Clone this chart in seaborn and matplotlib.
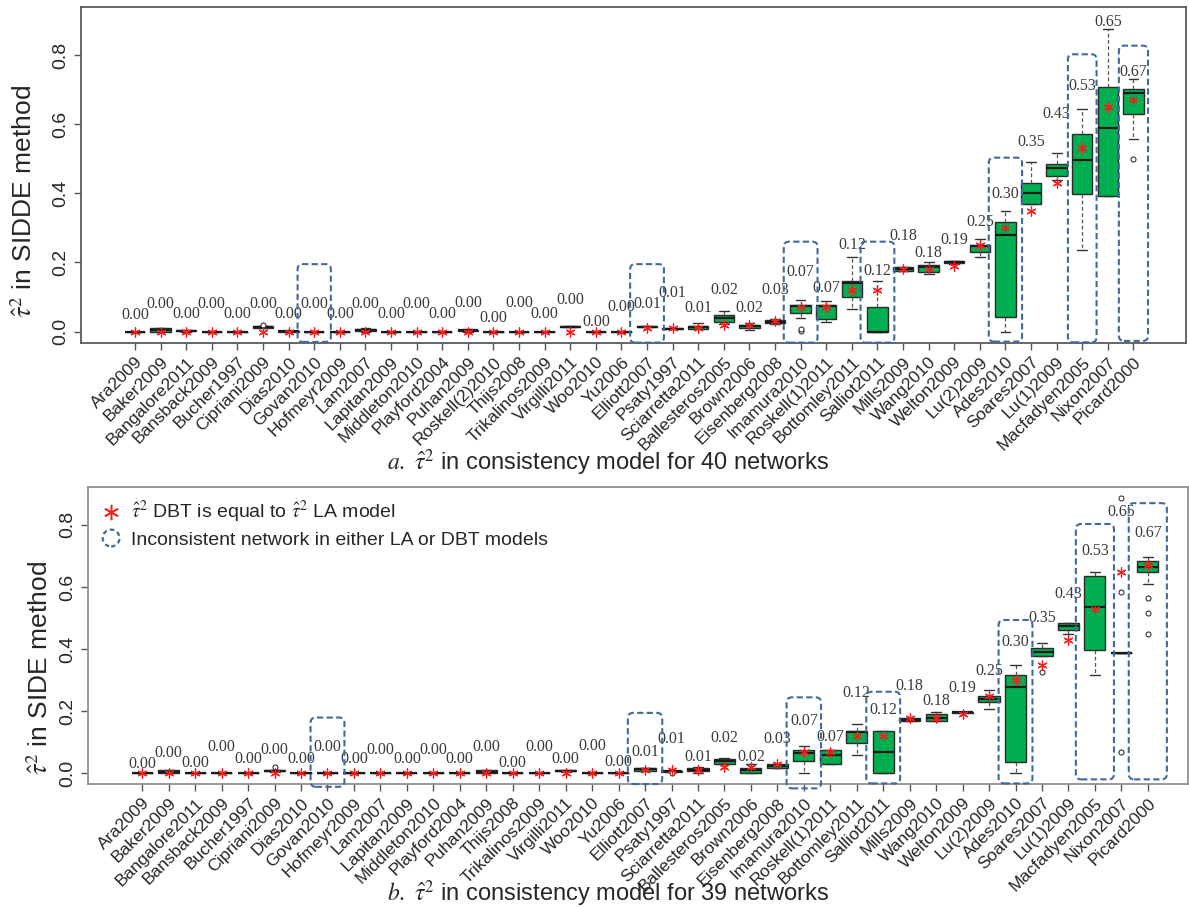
import matplotlib
matplotlib.use("Agg")
import matplotlib.pyplot as plt
import matplotlib.patches as mpatches
from matplotlib.legend_handler import HandlerPatch
from matplotlib.lines import Line2D
import pandas as pd
import seaborn as sns

sns.set_theme(style="ticks")
plt.rcParams['font.family'] = ['Liberation Sans', 'DejaVu Sans']
plt.rcParams['mathtext.fontset'] = 'stix'

# ---------------------------------------------------------------- panel a data
names_a = ["Ara2009", "Baker2009", "Bangalore2011", "Bansback2009", "Bucher1997",
           "Cipriani2009", "Dias2010", "Govan2010", "Hofmeyr2009", "Lam2007",
           "Lapitan2009", "Middleton2010", "Playford2004", "Puhan2009", "Roskell(2)2010",
           "Thijs2008", "Trikalinos2009", "Virgilli2011", "Woo2010", "Yu2006",
           "Elliott2007", "Psaty1997", "Sciarretta2011", "Ballesteros2005", "Brown2006",
           "Eisenberg2008", "Imamura2010", "Roskell(1)2011", "Bottomley2011", "Salliot2011",
           "Mills2009", "Wang2010", "Welton2009", "Lu(2)2009", "Ades2010",
           "Soares2007", "Lu(1)2009", "Macfadyen2005", "Nixon2007", "Picard2000"]

# five-number summaries of the SIDDE tau^2 estimates
lo_a = [0, 0, 0, 0, 0, 0.009, 0, 0, 0, 0,
        0, 0, 0, 0, 0, 0, 0, 0.012, 0, 0,
        0.012, 0.006, 0.006, 0.022, 0.005, 0.022, 0.039, 0.027, 0.065, 0,
        0.174, 0.166, 0.196, 0.215, 0, 0.368, 0.439, 0.236, 0.392, 0.558]
q1_a = [0, 0, 0.001, 0, 0, 0.011, 0, 0, 0, 0.002,
        0, 0, 0, 0.002, 0, 0, 0, 0.013, 0, 0,
        0.013, 0.007, 0.008, 0.029, 0.010, 0.024, 0.055, 0.036, 0.099, 0,
        0.176, 0.171, 0.198, 0.231, 0.041, 0.368, 0.451, 0.397, 0.392, 0.628]
med_a = [0, 0.004, 0.003, 0, 0, 0.013, 0.001, 0, 0, 0.004,
         0, 0, 0, 0.004, 0, 0, 0, 0.014, 0, 0,
         0.014, 0.008, 0.012, 0.039, 0.015, 0.029, 0.075, 0.075, 0.140, 0,
         0.181, 0.188, 0.200, 0.247, 0.278, 0.400, 0.474, 0.496, 0.588, 0.689]
q3_a = [0, 0.010, 0.004, 0, 0, 0.015, 0.002, 0, 0, 0.007,
        0, 0, 0, 0.005, 0, 0, 0, 0.015, 0, 0,
        0.015, 0.009, 0.016, 0.047, 0.019, 0.034, 0.077, 0.077, 0.147, 0.072,
        0.186, 0.193, 0.203, 0.251, 0.318, 0.431, 0.485, 0.572, 0.707, 0.701]
hi_a = [0, 0.010, 0.005, 0, 0, 0.016, 0.003, 0, 0, 0.009,
        0, 0, 0, 0.006, 0, 0, 0, 0.015, 0, 0,
        0.016, 0.010, 0.024, 0.060, 0.026, 0.036, 0.092, 0.087, 0.217, 0.145,
        0.188, 0.200, 0.205, 0.267, 0.350, 0.490, 0.516, 0.645, 0.874, 0.730]
outliers_a = {"Cipriani2009": [0.020], "Imamura2010": [0.003, 0.008], "Picard2000": [0.498]}
# tau^2 estimated by the DBT / LA models
star_a = [0.00] * 20 + [0.01, 0.01, 0.01, 0.02, 0.02, 0.03, 0.07, 0.07, 0.12, 0.12,
                        0.18, 0.18, 0.19, 0.25, 0.30, 0.35, 0.43, 0.53, 0.65, 0.67]

# ---------------------------------------------------------------- panel b data
names_b = [n for n in names_a if n != "Roskell(2)2010"]

lo_b = [0, 0, 0, 0, 0, 0.005, 0, 0, 0, 0,
        0, 0, 0, 0, 0, 0, 0.006, 0, 0,
        0.008, 0.005, 0, 0.030, 0.002, 0.016, 0, 0.029, 0.059, 0,
        0.168, 0.168, 0.196, 0.207, 0, 0.379, 0.448, 0.317, 0.387, 0.609]
q1_b = [0, 0, 0, 0, 0, 0.007, 0, 0, 0, 0,
        0, 0, 0, 0, 0, 0, 0.008, 0, 0,
        0.009, 0.006, 0.009, 0.032, 0.003, 0.018, 0.039, 0.029, 0.099, 0,
        0.170, 0.170, 0.196, 0.229, 0.038, 0.379, 0.462, 0.397, 0.387, 0.648]
med_b = [0, 0.004, 0, 0, 0, 0.009, 0, 0, 0, 0,
         0, 0, 0, 0.005, 0, 0, 0.009, 0, 0,
         0.013, 0.007, 0.012, 0.040, 0.010, 0.025, 0.067, 0.059, 0.135, 0.068,
         0.173, 0.180, 0.197, 0.240, 0.277, 0.390, 0.475, 0.537, 0.387, 0.666]
q3_b = [0, 0.011, 0, 0, 0, 0.010, 0, 0, 0, 0,
        0, 0, 0, 0.011, 0, 0, 0.010, 0, 0,
        0.018, 0.008, 0.018, 0.045, 0.018, 0.030, 0.077, 0.077, 0.137, 0.137,
        0.177, 0.190, 0.198, 0.249, 0.317, 0.403, 0.483, 0.636, 0.387, 0.685]
hi_b = [0, 0.011, 0, 0, 0, 0.012, 0, 0, 0, 0,
        0, 0, 0, 0.011, 0, 0, 0.011, 0, 0,
        0.019, 0.009, 0.020, 0.050, 0.029, 0.032, 0.088, 0.077, 0.158, 0.137,
        0.178, 0.197, 0.198, 0.268, 0.349, 0.419, 0.485, 0.648, 0.387, 0.696]
outliers_b = {"Cipriani2009": [0.021], "Psaty1997": [0.000], "Soares2007": [0.328],
              "Nixon2007": [0.070, 0.585, 0.886], "Picard2000": [0.448, 0.518, 0.566]}
star_b = [0.00] * 19 + [0.01, 0.01, 0.01, 0.02, 0.02, 0.03, 0.07, 0.07, 0.12, 0.12,
                        0.18, 0.18, 0.19, 0.25, 0.30, 0.35, 0.43, 0.53, 0.65, 0.67]

inconsistent = ["Govan2010", "Elliott2007", "Imamura2010", "Salliot2011",
                "Ades2010", "Macfadyen2005", "Picard2000"]

# ---------------------------------------------------------------- layout
label_y_a = [0.048, 0.079, 0.050, 0.080, 0.050, 0.080, 0.050, 0.080, 0.050, 0.080,
             0.050, 0.080, 0.050, 0.082, 0.040, 0.082, 0.050, 0.090, 0.027, 0.071,
             0.081, 0.111, 0.068, 0.120, 0.068, 0.119, 0.171, 0.125, 0.251, 0.176,
             0.275, 0.228, 0.265, 0.316, 0.397, 0.547, 0.629, 0.709, 0.895, 0.752]
label_y_b = [0.032, 0.067, 0.034, 0.084, 0.046, 0.077, 0.046, 0.084, 0.048, 0.077,
             0.046, 0.077, 0.048, 0.084, 0.034, 0.084, 0.046, 0.089, 0.038,
             0.070, 0.110, 0.054, 0.113, 0.054, 0.110, 0.169, 0.118, 0.260, 0.204,
             0.282, 0.234, 0.274, 0.331, 0.424, 0.501, 0.578, 0.716, 0.840, 0.773]
# dashed frame extents per inconsistent network: (top, bottom, half width)
frames_a = {"Govan2010": (0.195, -0.030, 0.65), "Elliott2007": (0.195, -0.032, 0.66),
            "Imamura2010": (0.260, -0.032, 0.66), "Salliot2011": (0.260, -0.032, 0.66),
            "Ades2010": (0.503, -0.029, 0.65), "Macfadyen2005": (0.802, -0.031, 0.56),
            "Picard2000": (0.827, -0.027, 0.57)}
frames_b = {"Govan2010": (0.180, -0.043, 0.64), "Elliott2007": (0.195, -0.034, 0.65),
            "Imamura2010": (0.245, -0.048, 0.65), "Salliot2011": (0.263, -0.032, 0.64),
            "Ades2010": (0.494, -0.032, 0.64), "Macfadyen2005": (0.803, -0.019, 0.72),
            "Picard2000": (0.870, -0.019, 0.72)}

GREEN = "#00b050"
FRAME_BLUE = "#41699c"
STAR = (6, 2, 0)


def draw_panel(ax, names, lo, q1, med, q3, hi, outliers, star, label_y, frames,
               xlim, ylim, ylabel, label_xy, spine_color):
    rows = [(n, v) for n, *vals in zip(names, lo, q1, med, q3, hi) for v in vals]
    df = pd.DataFrame(rows, columns=["network", "tau2"])
    sns.boxplot(data=df, x="network", y="tau2", order=names, ax=ax,
                whis=(0, 100), width=0.8, color=GREEN, saturation=1,
                linecolor="#2b2b2b", linewidth=1.0, showfliers=False,
                capwidths=0.38,
                medianprops={"color": "#1a1a1a", "linewidth": 1.6},
                whiskerprops={"color": "#555555", "linewidth": 0.9,
                              "linestyle": (0, (3, 2))},
                capprops={"color": "#333333", "linewidth": 1.0})

    out_rows = [(n, v) for n, vs in outliers.items() for v in vs]
    out_df = pd.DataFrame(out_rows, columns=["network", "tau2"])
    sns.stripplot(data=out_df, x="network", y="tau2", order=names, ax=ax,
                  jitter=False, marker="o", size=3.6, color="white",
                  edgecolor="#333333", linewidth=0.8, zorder=4)

    star_df = pd.DataFrame({"network": names, "tau2": star})
    sns.stripplot(data=star_df, x="network", y="tau2", order=names, ax=ax,
                  jitter=False, marker=STAR, size=6.5, color="#ff1a1a",
                  linewidth=0.9, zorder=5)

    for i, (v, ly) in enumerate(zip(star, label_y)):
        ax.text(i, ly, f"{v:.2f}", ha="center", va="center", fontsize=11.5,
                family="Liberation Serif", color="#3a3a3a", zorder=6)

    aspect = (ylim[1] - ylim[0]) / ax.get_position().height / \
        ((xlim[1] - xlim[0]) / ax.get_position().width) * (fig.get_figwidth() / fig.get_figheight())
    for n, (top, bottom, hw) in frames.items():
        i = names.index(n)
        patch = mpatches.FancyBboxPatch(
            (i - hw, bottom), 2 * hw, top - bottom,
            boxstyle="round,pad=0,rounding_size=0.2", mutation_aspect=aspect,
            facecolor="none", edgecolor=FRAME_BLUE, linewidth=1.5,
            linestyle=(0, (3, 1.6)), clip_on=False, zorder=7)
        ax.add_patch(patch)

    ax.set_xlim(*xlim)
    ax.set_ylim(*ylim)
    ax.set_xticks(range(len(names)))
    ax.set_xticklabels(names, rotation=45, ha="right", rotation_mode="anchor",
                       fontsize=12.5)
    ax.set_yticks([0, 0.2, 0.4, 0.6, 0.8])
    ax.set_yticklabels(["0.0", "0.2", "0.4", "0.6", "0.8"], fontsize=14,
                       rotation=90, va="center")
    ax.tick_params(axis="both", length=5, width=1, color="#555555", pad=3)
    ax.set_xlabel("")
    ax.set_ylabel(ylabel, fontsize=19)
    ax.yaxis.set_label_coords(*label_xy)
    ax.yaxis.label.set_va("center")
    for s in ax.spines.values():
        s.set_visible(True)
        s.set_color(spine_color)
        s.set_linewidth(1.3)


fig = plt.figure(figsize=(11.89, 9.08), dpi=100)
ax_a = fig.add_axes([0.0679, 0.6219, 0.9293, 0.3701])
ax_b = fig.add_axes([0.0738, 0.1362, 0.9254, 0.3278])

draw_panel(ax_a, names_a, lo_a, q1_a, med_a, q3_a, hi_a, outliers_a, star_a,
           label_y_a, frames_a, (-2.12, 41.04), (-0.034, 0.938),
           r"$\hat{\tau}^2$ in SIDDE method", (-0.051, 0.4235), "#5a5a5a")
draw_panel(ax_b, names_b, lo_b, q1_b, med_b, q3_b, hi_b, outliers_b, star_b,
           label_y_b, frames_b, (-2.06, 39.52), (-0.035, 0.923),
           r"$\hat{\tau}^2$ in SIDE method", (-0.043, 0.391), "#909090")


class DashedCircleHandler(HandlerPatch):
    def create_artists(self, legend, orig_handle, xdescent, ydescent, width,
                       height, fontsize, trans):
        c = mpatches.Circle((0.5 * width - xdescent, 0.5 * height - ydescent),
                            0.62 * height, facecolor="none",
                            edgecolor=orig_handle.get_edgecolor(),
                            linestyle=(0, (2, 1.5)), linewidth=1.6,
                            transform=trans)
        return [c]


star_handle = Line2D([], [], marker=STAR, color="#ff1a1a", linestyle="none",
                     markersize=11, markeredgewidth=1.1)
circle_handle = mpatches.Circle((0, 0), 1, facecolor="none", edgecolor=FRAME_BLUE)
ax_b.legend([star_handle, circle_handle],
            [r"$\hat{\tau}^2$ DBT is equal to $\hat{\tau}^2$ LA model",
             "Inconsistent network in either LA or DBT models"],
            handler_map={mpatches.Circle: DashedCircleHandler()},
            loc="upper left", bbox_to_anchor=(0.0, 1.0), frameon=False,
            fontsize=14, handlelength=1.1, handletextpad=0.45,
            labelspacing=0.3, borderpad=0.45, borderaxespad=0.2)

fig.text(0.511, 0.482,
         r"$\mathit{a.}$ $\hat{\tau}^2$ in consistency model for 40 networks",
         ha="center", va="baseline", fontsize=17)
fig.text(0.511, 0.008,
         r"$\mathit{b.}$ $\hat{\tau}^2$ in consistency model for 39 networks",
         ha="center", va="baseline", fontsize=17)

fig.savefig("out.png", dpi=100)
